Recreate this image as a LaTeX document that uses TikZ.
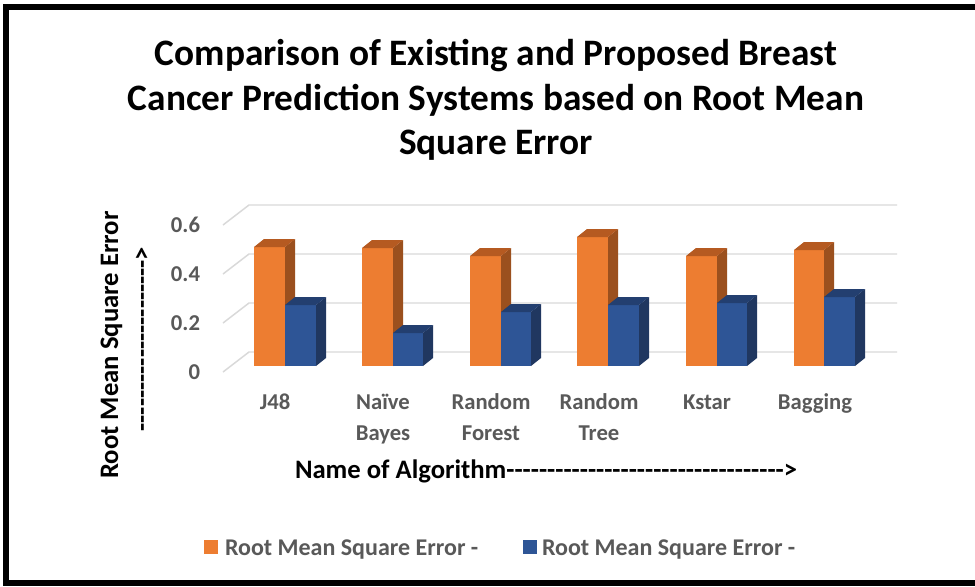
\documentclass[tikz,border=0pt]{standalone}
\usepackage{fontspec}
\setmainfont{Carlito}
\definecolor{ofront}{HTML}{ED7D31}
\definecolor{oside}{HTML}{9B501E}
\definecolor{otop}{HTML}{B55A21}
\definecolor{bfront}{HTML}{2E5596}
\definecolor{bside}{HTML}{203760}
\definecolor{btop}{HTML}{233F70}
\definecolor{gridgray}{HTML}{D9D9D9}
\definecolor{txtgray}{HTML}{595959}
\newcommand\dashrun[1]{\foreach \k in {1,...,#1}{-\kern0pt}}
% #1 x0, #2 x1, #3 top, #4 prefix (o/b)
\newcommand\cbar[4]{%
  \fill[#4front] (#1,366) rectangle (#2,#3);
  \fill[#4side] (#2,366) -- (#2,#3) -- ({#2+10},{#3-8}) -- ({#2+10},358) -- cycle;
  \fill[#4top] (#1,#3) -- ({#1+10},{#3-8}) -- ({#2+10},{#3-8}) -- (#2,#3) -- cycle;
}
\begin{document}
\begin{tikzpicture}[x=0.75pt,y=-0.75pt,
  every node/.style={inner sep=0pt,outer sep=0pt},
  titletext/.style={font=\fontsize{28}{33.5}\selectfont\bfseries,align=center},
  ticklab/.style={font=\fontsize{17}{20}\selectfont\bfseries,text=txtgray,anchor=east},
  catlab/.style={font=\fontsize{17}{20}\selectfont\bfseries,text=txtgray,anchor=base},
  axtitle/.style={font=\fontsize{20}{24}\selectfont\bfseries,text=black},
  legtext/.style={font=\fontsize{18}{22}\selectfont\bfseries,text=txtgray,anchor=base west},
  gridline/.style={draw=gridgray,line width=1.1pt}]
\useasboundingbox (0,0) rectangle (975,586);
\fill[white] (0,0) rectangle (975,586);
\draw[line width=4.5pt] (985,7) -- (5.5,7) -- (5.5,583) -- (985,583);
% title
\node[titletext] (title) at (496,100) {Comparison of Existing and Proposed Breast\\Cancer Prediction Systems based on Root Mean\\Square Error};
% grid
\foreach \yy in {205,254,303,352}
  \draw[gridline] (223,\yy+20) -- (249,\yy) -- (897,\yy);
% tick labels
\node[ticklab] (t6) at (200,225) {0.6};
\node[ticklab] (t4) at (200,274) {0.4};
\node[ticklab] (t2) at (200,323) {0.2};
\node[ticklab] (t0) at (200,372) {0};
% bars
\cbar{254}{285}{247}{o}\cbar{285}{316}{305}{b}
\cbar{362}{393}{248}{o}\cbar{393}{423}{333}{b}
\cbar{470}{501}{256}{o}\cbar{501}{531}{312}{b}
\cbar{577}{608}{237}{o}\cbar{608}{639}{305}{b}
\cbar{686}{717}{256}{o}\cbar{717}{747}{303}{b}
\cbar{794}{824}{250}{o}\cbar{824}{855}{297}{b}
% category labels
\node[catlab] (c1) at (275,409) {J48};
\node[catlab] (c2a) at (383,409) {Naïve};
\node[catlab] (c2b) at (383,440) {Bayes};
\node[catlab] (c3a) at (491,409) {Random};
\node[catlab] (c3b) at (491,440) {Forest};
\node[catlab] (c4a) at (599,409) {Random};
\node[catlab] (c4b) at (599,440) {Tree};
\node[catlab] (c5) at (707,409) {Kstar};
\node[catlab] (c6) at (815,409) {Bagging};
% axis titles
\node[axtitle,anchor=base west] (xtitle) at (295,478) {Name of Algorithm\dashrun{34}>};
\node[axtitle,anchor=base,rotate=90] (ytitle) at (118,345) {Root Mean Square Error};
\node[axtitle,anchor=base,rotate=90] (yarrow) at (150,339) {\dashrun{21}>};
% legend
\fill[ofront] (204,540) rectangle (218,554);
\node[legtext] (leg1) at (225,555) {Root Mean Square Error -};
\fill[bfront] (523,540) rectangle (537,554);
\node[legtext] (leg2) at (542,555) {Root Mean Square Error -};
\end{tikzpicture}
\end{document}
